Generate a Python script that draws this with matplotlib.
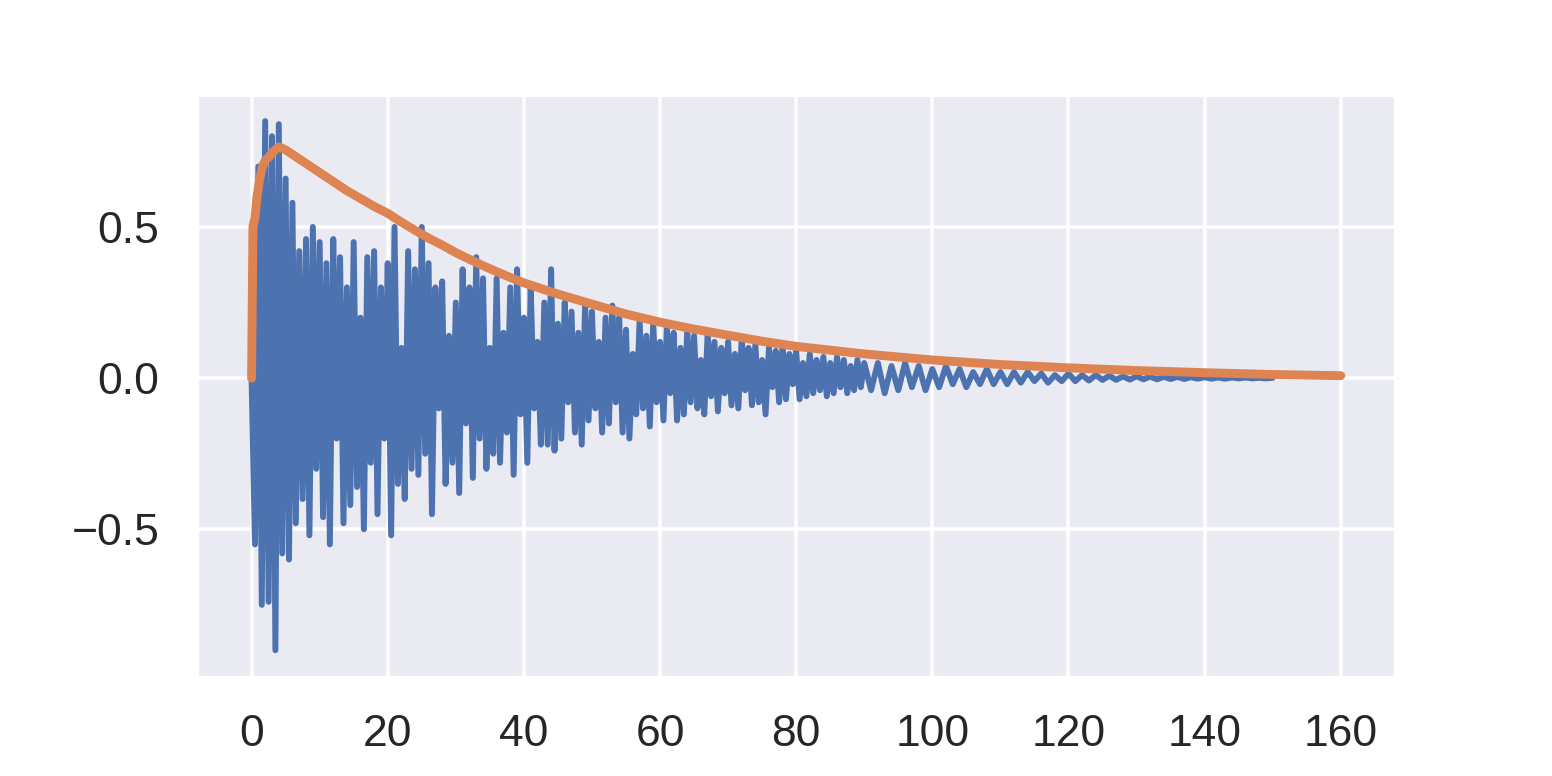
import numpy as np
import matplotlib
matplotlib.use("Agg")
import matplotlib.pyplot as plt
import seaborn as sns

sns.set_theme()
plt.rcParams['font.family'] = ['Liberation Sans', 'DejaVu Sans']
plt.rcParams['grid.linewidth'] = 1.3

# blue signal, sampled every 0.5 from 0 to 90
sig_fine = [
    0.00, -0.55, 0.70, -0.75, 0.85, -0.74, 0.80, -0.90, 0.84, -0.58,
    0.66, -0.60, 0.58, -0.48, 0.42, -0.40, 0.46, -0.52, 0.50, -0.30,
    0.45, -0.46, 0.38, -0.55, 0.46, -0.20, 0.40, -0.48, 0.30, -0.42,
    0.45, -0.36, 0.20, -0.50, 0.40, -0.28, 0.42, -0.45, 0.30, -0.20,
    0.38, -0.52, 0.50, -0.35, 0.10, -0.40, 0.42, -0.30, 0.36, -0.32,
    0.50, -0.25, 0.38, -0.45, 0.30, -0.10, 0.32, -0.35, 0.14, -0.28,
    0.25, -0.38, 0.36, -0.15, 0.30, -0.33, 0.40, -0.20, 0.33, -0.30,
    0.10, -0.25, 0.33, -0.28, 0.15, -0.18, 0.30, -0.32, 0.36, -0.12,
    0.20, -0.28, 0.30, -0.10, 0.12, -0.22, 0.25, -0.22, 0.36, -0.24,
    0.18, -0.20, 0.25, -0.08, 0.22, -0.18, 0.15, -0.22, 0.25, -0.14,
    0.22, -0.10, 0.12, -0.18, 0.20, -0.15, 0.24, -0.08, 0.20, -0.18,
    0.16, -0.20, 0.08, -0.12, 0.19, -0.10, 0.14, -0.16, 0.18, -0.08,
    0.12, -0.14, 0.17, -0.05, 0.15, -0.14, 0.10, -0.12, 0.16, -0.08,
    0.14, -0.10, 0.06, -0.12, 0.15, -0.06, 0.12, -0.11, 0.10, -0.05,
    0.12, -0.09, 0.08, -0.10, 0.13, -0.04, 0.10, -0.09, 0.11, -0.08,
    0.06, -0.12, 0.10, -0.03, 0.09, -0.08, 0.11, -0.07, 0.08, -0.02,
    0.09, -0.07, 0.05, -0.06, 0.08, -0.05, 0.06, -0.04, 0.07, -0.06,
    0.05, -0.05, 0.07, -0.03, 0.06, -0.05, 0.04, -0.04, 0.06, -0.03,
    0.05,
]
# blue signal, sampled every 1 from 91 to 150
sig_coarse = [
    -0.04, 0.05, -0.05, 0.04, -0.04, 0.05, -0.03, 0.04, -0.04, 0.03,
    -0.03, 0.04, -0.02, 0.03, -0.03, 0.02, -0.02, 0.03, -0.02, 0.02,
    -0.02, 0.02, -0.015, 0.02, -0.01, 0.015, -0.015, 0.01, -0.01, 0.015,
    -0.01, 0.01, -0.008, 0.01, -0.006, 0.008, -0.006, 0.006, -0.005, 0.006,
    -0.004, 0.005, -0.004, 0.004, -0.003, 0.004, -0.003, 0.003, -0.002, 0.003,
    -0.002, 0.002, -0.002, 0.002, -0.001, 0.002, -0.001, 0.001, -0.001, 0.001,
]
t_sig = np.concatenate([np.arange(len(sig_fine)) * 0.5,
                        91 + np.arange(len(sig_coarse))])
signal = np.array(sig_fine + sig_coarse)

# orange envelope
t_env = [0, 0.2, 0.5, 0.8, 1.2, 1.6, 2, 2.5, 3, 3.5, 4, 5, 6, 8, 10, 12, 14, 16,
         18, 20, 22, 24, 26, 28, 30, 32, 34, 36, 38, 40, 45, 50, 55, 60, 65, 70,
         75, 80, 90, 100, 110, 120, 130, 140, 150, 160]
envelope = [0, 0.50, 0.53, 0.60, 0.66, 0.70, 0.72, 0.73, 0.745, 0.755, 0.765,
            0.755, 0.74, 0.71, 0.68, 0.65, 0.62, 0.594, 0.568, 0.545, 0.516,
            0.489, 0.463, 0.440, 0.415, 0.393, 0.372, 0.352, 0.333, 0.315,
            0.278, 0.245, 0.212, 0.185, 0.162, 0.142, 0.122, 0.105, 0.08, 0.06,
            0.045, 0.034, 0.025, 0.018, 0.012, 0.008]

fig, ax = plt.subplots(figsize=(8, 4), dpi=194)
fig.subplots_adjust(left=0.127, right=0.899, top=0.878, bottom=0.128)
ax.plot(t_sig, signal, lw=2.2)
ax.plot(t_env, envelope, lw=3.3, solid_capstyle="round")
ax.set_yticks([-0.5, 0.0, 0.5])
ax.set_xticks(range(0, 161, 20))
ax.tick_params(labelsize=16.5, pad=8)

fig.savefig("out.png", dpi=194)
